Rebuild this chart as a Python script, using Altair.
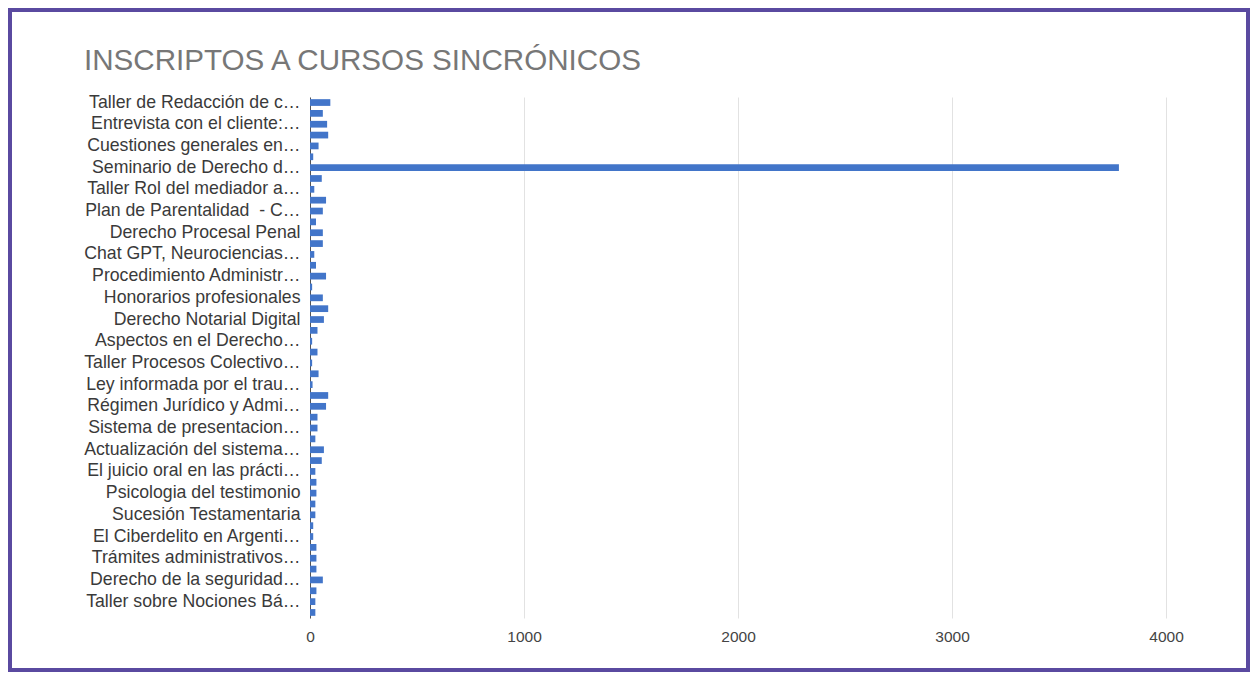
import json
import altair as alt
import pandas as pd

chart_title = "INSCRIPTOS A CURSOS SINCRÓNICOS"

visible_labels = [
    "Taller de Redacción de c…",
    "Entrevista con el cliente:…",
    "Cuestiones generales en…",
    "Seminario de Derecho d…",
    "Taller Rol del mediador a…",
    "Plan de Parentalidad\u00a0 - C…",
    "Derecho Procesal Penal",
    "Chat GPT, Neurociencias…",
    "Procedimiento Administr…",
    "Honorarios profesionales",
    "Derecho Notarial Digital",
    "Aspectos en el Derecho…",
    "Taller Procesos Colectivo…",
    "Ley informada por el trau…",
    "Régimen Jurídico y Admi…",
    "Sistema de presentacion…",
    "Actualización del sistema…",
    "El juicio oral en las prácti…",
    "Psicologia del testimonio",
    "Sucesión Testamentaria",
    "El Ciberdelito en Argenti…",
    "Trámites administrativos…",
    "Derecho de la seguridad…",
    "Taller sobre Nociones Bá…",
]

inscriptos = [95, 60, 80, 85, 40, 15, 3780, 55, 20, 75,
              60, 28, 60, 60, 20, 28, 75, 10, 60, 85,
              65, 35, 10, 35, 10, 40, 12, 85, 75, 35,
              35, 25, 65, 55, 25, 30, 30, 25, 25, 15,
              15, 30, 30, 30, 60, 30, 25, 25]

x_ticks = [0, 1000, 2000, 3000, 4000]

labels = [visible_labels[i // 2] if i % 2 == 0 else "" for i in range(len(inscriptos))]
df = pd.DataFrame({"idx": list(range(len(inscriptos))), "curso": labels, "inscriptos": inscriptos})
label_js = json.dumps(labels, ensure_ascii=False)

FONT = "Liberation Sans, Arial"

bars = alt.Chart(df).mark_bar(color="#4275c9").encode(
    x=alt.X(
        "inscriptos:Q",
        scale=alt.Scale(domain=[0, 4000], nice=False),
        axis=alt.Axis(
            values=x_ticks, title=None, grid=True, gridColor="#e2e2e2",
            domain=False, ticks=False, labelFontSize=15.5, labelColor="#444",
            labelPadding=11, labelFont=FONT, format="d", labelFlush=False,
        ),
    ),
    y=alt.Y(
        "idx:O",
        scale=alt.Scale(paddingInner=0.38, paddingOuter=0.2),
        axis=alt.Axis(
            title=None, labelExpr=f"{label_js}[datum.value]", ticks=False,
            domain=True, domainColor="#555", labelFontSize=17.7, labelLimit=0,
            labelPadding=10, labelColor="#3a3a3a", labelFont=FONT,
        ),
    ),
    tooltip=["curso:N", "inscriptos:Q"],
)

frame = alt.Chart(pd.DataFrame({"k": [0]})).mark_rect(
    fillOpacity=0, stroke="#5a4aa0", strokeWidth=4
).encode(
    x=alt.value(-300), x2=alt.value(938), y=alt.value(-87), y2=alt.value(573)
)

title_mark = alt.Chart(pd.DataFrame({"t": [chart_title]})).mark_text(
    align="left", baseline="alphabetic", fontSize=29.6, font=FONT,
    fontWeight="normal", color="#777"
).encode(
    text="t:N", x=alt.value(-226), y=alt.value(-27)
)

chart = alt.layer(frame, title_mark, bars).properties(
    width=856,
    height=521,
    autosize=alt.AutoSizeParams(type="none"),
    padding={"left": 302, "top": 89, "right": 84, "bottom": 54},
).configure_view(strokeWidth=0)

chart.save("out.html", embed_options={"renderer": "svg", "actions": False})
